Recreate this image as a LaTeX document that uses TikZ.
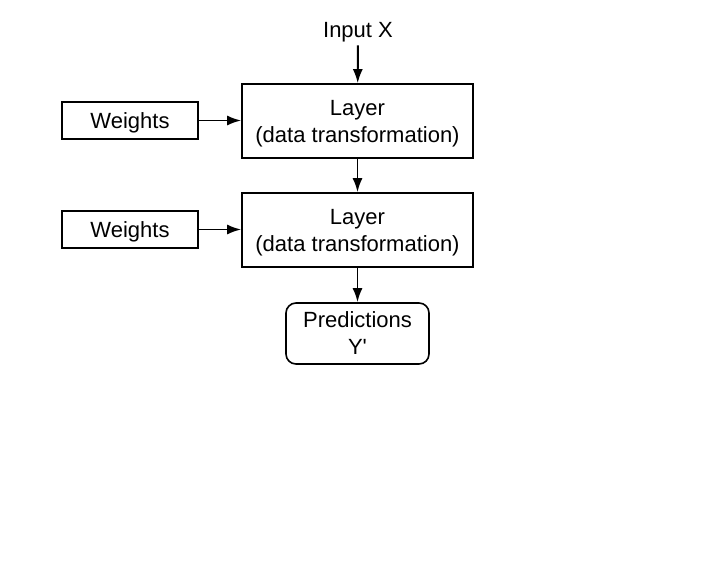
\documentclass[tikz,border=0pt]{standalone}
\usepackage{fontspec}
\setmainfont{Liberation Sans}[Ligatures=TeXOff]
\usetikzlibrary{arrows.meta}

\begin{document}
\begin{tikzpicture}[x=1pt, y=-1pt, font=\fontsize{22}{27}\selectfont,
            layerbox/.style={draw, line width=1.6pt, minimum width=231pt, minimum height=74pt, align=center, inner sep=2pt, text depth=0pt},
            weightbox/.style={draw, line width=1.6pt, minimum width=136pt, minimum height=37pt, inner sep=2pt, text depth=0pt},
            predbox/.style={draw, line width=1.6pt, rounded corners=10pt, minimum width=143pt, minimum height=61pt, align=center, inner sep=2pt},
            link/.style={->, line width=1.9pt},
            >={Latex[length=14pt,width=10pt]}]
            \useasboundingbox (0,0) rectangle (714,573);
            \node (I) at (358,32) {Input X};
            \node[layerbox] (L1) at (357.5,121) {Layer\\(data transformation)};
            \node[layerbox] (L2) at (357.5,230) {Layer\\(data transformation)};
            \node[weightbox] (W1) at (130,120.5) {Weights};
            \node[weightbox] (W2) at (130,229.5) {Weights};
            \node[predbox] (P) at (357.5,333.5) {Predictions\\Y'};
            \draw[link] (I) to (L1);
            \draw[link] (L1) to (L2);
            \draw[link] (L2) to (P);
            \draw[link] (W1) to (L1.west |- W1);
            \draw[link] (W2) to (L2.west |- W2);
        \end{tikzpicture}
\end{document}
